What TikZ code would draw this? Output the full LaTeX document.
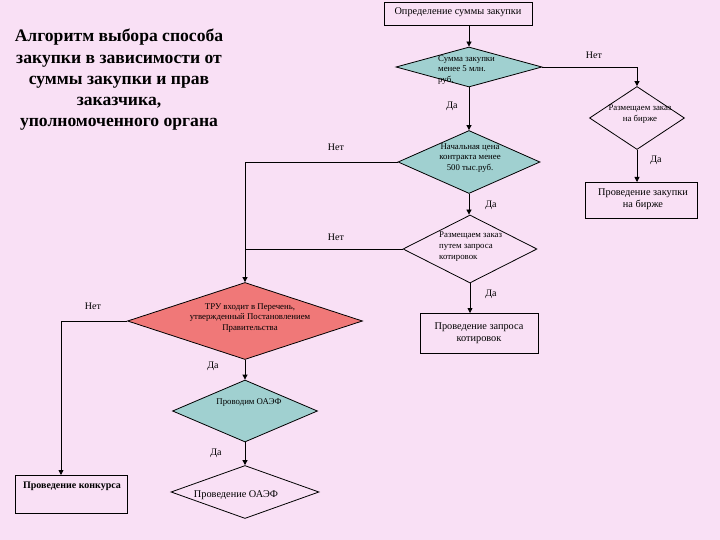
\documentclass[tikz,border=0pt]{standalone}
\usepackage{fontspec}
\setmainfont{Liberation Serif}
\usetikzlibrary{shapes.geometric,arrows.meta}
\definecolor{bgpink}{RGB}{249,224,245}
\definecolor{teal}{RGB}{160,208,208}
\definecolor{redd}{RGB}{240,120,120}
\begin{document}
\begin{tikzpicture}[x=1pt,y=-1pt,
  every node/.style={inner sep=0pt},
  dia/.style={diamond, draw, line width=0.8pt},
  box/.style={draw, line width=0.8pt, anchor=north west},
  txt/.style={font=\fontsize{10.3}{12.5}\selectfont, align=center},
  dtxt/.style={font=\fontsize{8.8}{10.8}\selectfont, align=center},
  lbl/.style={font=\fontsize{10}{10}\selectfont},
  arr/.style={line width=0.8pt, -{Triangle[length=5pt,width=5pt]}},
  ln/.style={line width=0.8pt}]
\fill[bgpink] (0,0) rectangle (720,540);
\useasboundingbox (0,0) rectangle (720,540);

\node[align=center, font=\bfseries\fontsize{17.6}{21.2}\selectfont] (title) at (119,80)
  {Алгоритм выбора способа\\закупки в зависимости от\\суммы закупки и прав\\заказчика,\\уполномоченного органа};

\node[box, minimum width=148pt, minimum height=23pt] (top) at (384,2) {};
\node[txt] (ttop) at (458,12) {Определение суммы закупки};

\node[dia, fill=teal, minimum width=146pt, minimum height=40pt] (d1) at (469,67) {};
\node[dtxt, align=left, anchor=north west] (td1) at (438,55) {Сумма закупки\\менее 5 млн.\\руб.};

\node[dia, minimum width=95pt, minimum height=63pt] (d2) at (637,118) {};
\node[dtxt] (td2) at (640,114) {Размещаем заказ\\на бирже};

\node[box, minimum width=112pt, minimum height=36pt] (b2) at (585,182) {};
\node[txt] (tb2) at (643,199) {Проведение закупки\\на бирже};

\node[dia, fill=teal, minimum width=142pt, minimum height=63pt] (d3) at (469,162) {};
\node[dtxt] (td3) at (470,158) {Начальная цена\\контракта менее\\500 тыс.руб.};

\node[dia, minimum width=134pt, minimum height=68pt] (d4) at (470,249) {};
\node[dtxt, align=left, anchor=north west] (td4) at (439,232) {Размещаем заказ\\путем запроса\\котировок};

\node[box, minimum width=118pt, minimum height=40pt] (b4) at (420,313) {};
\node[txt] (tb4) at (479,333) {Проведение запроса\\котировок};

\node[dia, fill=redd, minimum width=235pt, minimum height=77pt] (red) at (245,321) {};
\node[dtxt] (tred) at (250,318) {ТРУ входит в Перечень,\\утвержденный Постановлением\\Правительства};

\node[dia, fill=teal, minimum width=145pt, minimum height=62pt] (d5) at (245,411) {};
\node[dtxt] (td5) at (249,403) {Проводим ОАЭФ};

\node[dia, minimum width=148pt, minimum height=53pt] (d6) at (245,492) {};
\node[txt] (td6) at (236,495) {Проведение ОАЭФ};

\node[box, minimum width=112pt, minimum height=38pt] (bk) at (15,475) {};
\node[txt, font=\bfseries\fontsize{10}{12}\selectfont] (tbk) at (72,486) {Проведение конкурса};

% connectors
\draw[arr] (top.south -| d1.north) -- (d1.north);
\draw[arr] (d1.east) -| (d2.north);
\draw[arr] (d2.south) -- (d2.south |- b2.north);
\draw[arr] (d1.south) -- (d3.north);
\draw[arr] (d3.west) -| (red.north);
\draw[ln] (d4.west) -- (d4.west -| red.north);
\draw[arr] (d3.south) -- (d3.south |- d4.north);
\draw[arr] (d4.south) -- (d4.south |- b4.north);
\coordinate (bkin) at (61,475);
\draw[arr] (red.west) -| (bkin);
\draw[arr] (red.south) -- (d5.north);
\draw[arr] (d5.south) -- (d6.north);

% labels
\node[lbl] (l1) at (594,55) {Нет};
\node[lbl] (l2) at (656,160) {Да};
\node[lbl] (l3) at (452,106) {Да};
\node[lbl] (l4) at (336,147) {Нет};
\node[lbl] (l5) at (491,205) {Да};
\node[lbl] (l6) at (336,237) {Нет};
\node[lbl] (l7) at (491,294) {Да};
\node[lbl] (l8) at (93,306) {Нет};
\node[lbl] (l9) at (213,366) {Да};
\node[lbl] (l10) at (216,453) {Да};
\end{tikzpicture}
\end{document}
